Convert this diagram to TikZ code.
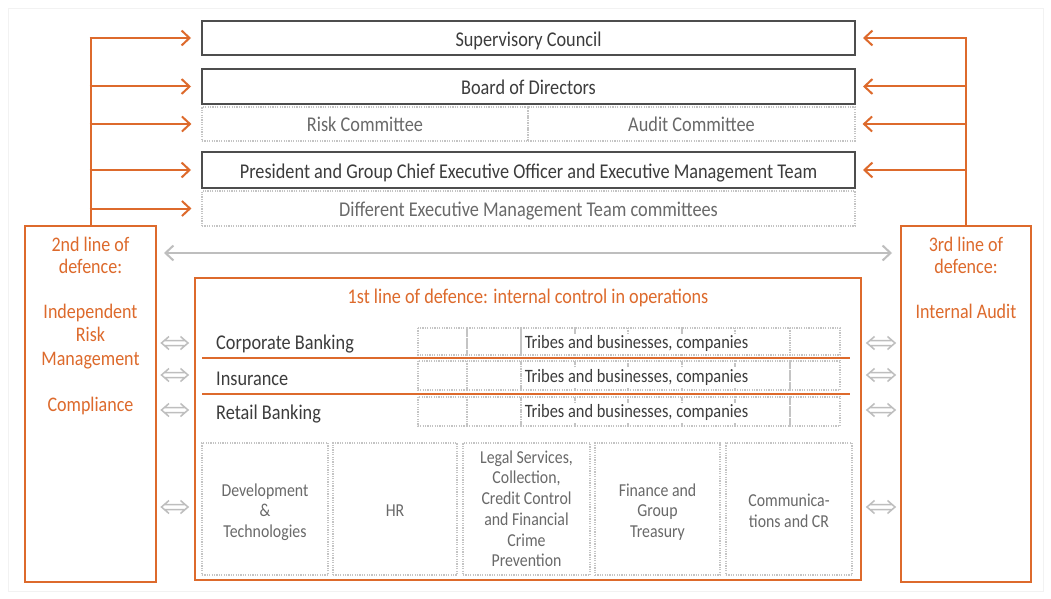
\documentclass[tikz,border=0pt]{standalone}
\usepackage{fontspec}
\setmainfont{Carlito}[FakeStretch=0.87]
\usetikzlibrary{arrows.meta,calc}
\definecolor{org}{RGB}{221,106,44}
\definecolor{dk}{RGB}{77,77,77}
\definecolor{txt}{RGB}{60,60,60}
\definecolor{ltxt}{RGB}{105,105,105}
\definecolor{dotc}{RGB}{196,196,196}
\definecolor{garw}{RGB}{190,190,190}
\tikzset{
  big/.style={font=\fontsize{21}{25}\selectfont},
  mainbox/.style={draw=dk, line width=2pt, text=txt, inner sep=0pt, big, text height=16.6pt, text depth=0pt},
  dotbox/.style={draw=dotc, line width=1.2pt, dash pattern=on 1.2pt off 1.2pt, inner sep=0pt},
  topdot/.style={dotbox, text=ltxt, big, text height=15pt, text depth=0pt},
  obox/.style={draw=org, line width=2pt, inner sep=0pt},
  otext/.style={text=org, anchor=base, inner sep=0pt, font=\fontsize{20.7}{24}\selectfont},
  oarrow/.style={draw=org, line width=2pt, -{Straight Barb[length=8pt,width=15pt]}},
  oline/.style={draw=org, line width=2pt},
  garrow/.style={draw=garw, line width=2pt, {Straight Barb[length=8pt,width=15pt]}-{Straight Barb[length=8pt,width=15pt]}},
  dblarrow/.style={draw=garw, line width=1.5pt, line join=miter, to path={
     ($(\tikztostart)+(7.5,-6.5)$) -- (\tikztostart) -- ($(\tikztostart)+(7.5,6.5)$)
     ($(\tikztostart)+(2.9,-2.5)$) -- ($(\tikztotarget)+(-2.9,-2.5)$)
     ($(\tikztostart)+(2.9,2.5)$) -- ($(\tikztotarget)+(-2.9,2.5)$)
     ($(\tikztotarget)+(-7.5,-6.5)$) -- (\tikztotarget) -- ($(\tikztotarget)+(-7.5,6.5)$)}},
  rowlab/.style={text=txt, anchor=base west, inner sep=0pt, big},
  tribe/.style={text=txt, fill=white, anchor=base, inner xsep=2pt, inner ysep=2pt, text height=12pt, text depth=3.5pt, font=\fontsize{18.85}{22}\selectfont},
  cell/.style={dotbox, minimum height=132pt},
  ctext/.style={text=ltxt, anchor=base, inner sep=0pt, font=\fontsize{18.2}{21}\selectfont},
}
\begin{document}
\begin{tikzpicture}[x=1pt,y=-1pt]
\useasboundingbox (0,0) rectangle (1051,599);
\fill[white] (0,0) rectangle (1051,599);
\draw[black!5] (8,8) rectangle (1043,591);

% top boxes
\node[mainbox, minimum width=653pt, minimum height=34pt] (sc) at (528.5,38) {Supervisory Council};
\node[mainbox, minimum width=653pt, minimum height=35pt] (bod) at (528.5,86.5) {Board of Directors};
\node[topdot, minimum width=326pt, minimum height=34pt] (risk) at (365,124) {Risk Committee};
\node[topdot, minimum width=327pt, minimum height=34pt] (audit) at (691.5,124) {Audit Committee};
\node[mainbox, minimum width=653pt, minimum height=36pt] (pres) at (528.5,170) {President and Group Chief Executive Officer and Executive Management Team};
\node[topdot, minimum width=653pt, minimum height=35pt] (diff) at (528.5,208.5) {Different Executive Management Team committees};

% lines of defence
\node[obox, minimum width=131pt, minimum height=356pt] (lod2) at (90.5,404) {};
\node[obox, minimum width=130pt, minimum height=356pt] (lod3) at (966,404) {};
\node[obox, minimum width=666pt, minimum height=302pt] (lod1) at (528,429) {};

\node[otext] (l2a) at (90.5,251.7) {2nd line of};
\node[otext] (l2b) at (90.5,273.3) {defence:};
\node[otext] (l2c) at (90.5,318.3) {Independent};
\node[otext] (l2d) at (90.5,341.7) {Risk};
\node[otext] (l2e) at (90.5,365) {Management};
\node[otext] (l2f) at (90.5,411.7) {Compliance};
\node[otext] (l3a) at (966,251.7) {3rd line of};
\node[otext] (l3b) at (966,273.3) {defence:};
\node[otext] (l3c) at (966,318.3) {Internal Audit};
\node[otext, font=\fontsize{20.9}{24}\selectfont] (l1t) at (528,303.3) {1st line of defence: internal control in operations};

% orange brackets
\draw[oline] (lod2.north) -- (lod2.north |- sc.west);
\draw[oline] (lod3.north) -- (lod3.north |- sc.east);
\foreach \n in {sc,bod,risk,pres,diff}{
  \draw[oarrow] ($(lod2.north |- \n.west)+(-1,0)$) -- ($(\n.west)+(-10,0)$);
}
\foreach \n in {sc,bod,audit,pres}{
  \draw[oarrow] ($(lod3.north |- \n.east)+(1,0)$) -- ($(\n.east)+(7,0)$);
}

% gray long arrow
\coordinate (gy) at (0,253);
\draw[garrow] ($(lod2.east |- gy)+(7,0)$) -- ($(lod3.west |- gy)+(-8,0)$);

% business rows
\node[rowlab] (cb) at (216,349) {Corporate Banking};
\node[rowlab] (ins) at (216,385) {Insurance};
\node[rowlab] (rb) at (216,419) {Retail Banking};
\draw[org, line width=1.5pt] (202,358) -- (850,358);
\draw[org, line width=1.5pt] (202,394) -- (850,394);

\foreach \yc/\hh in {341.5/27, 375.5/29, 411.5/29}{
  \foreach \a/\b in {418/467,467/521,521/575,575/628,628/682,682/735,735/790,790/840}{
    \draw[dotbox] (\a,\yc-\hh/2) rectangle (\b,\yc+\hh/2);
  }
}
\node[tribe] (tr1) at (636.5,348) {Tribes and businesses, companies};
\node[tribe] (tr2) at (636.5,382) {Tribes and businesses, companies};
\node[tribe] (tr3) at (636.5,417) {Tribes and businesses, companies};

% support functions
\node[cell, minimum width=126pt] (d1) at (265,509) {};
\node[cell, minimum width=124pt] (d2) at (395,509) {};
\node[cell, minimum width=127pt] (d3) at (526.5,509) {};
\node[cell, minimum width=125pt] (d4) at (657.5,509) {};
\node[cell, minimum width=126pt] (d5) at (789,509) {};

\node[ctext] (d1a) at (265,496) {Development};
\node[ctext] (d1b) at (265,516.5) {\&};
\node[ctext] (d1c) at (265,537) {Technologies};
\node[ctext] (d2a) at (395,516.5) {HR};
\node[ctext] (d3a) at (526.5,463) {Legal Services,};
\node[ctext] (d3b) at (526.5,483.5) {Collection,};
\node[ctext] (d3c) at (526.5,504.5) {Credit Control};
\node[ctext] (d3d) at (526.5,525.5) {and Financial};
\node[ctext] (d3e) at (526.5,546) {Crime};
\node[ctext] (d3f) at (526.5,566.5) {Prevention};
\node[ctext] (d4a) at (657.5,496) {Finance and};
\node[ctext] (d4b) at (657.5,516.5) {Group};
\node[ctext] (d4c) at (657.5,537) {Treasury};
\node[ctext] (d5a) at (789,506.5) {Communica-};
\node[ctext] (d5b) at (789,527) {tions and CR};

% small double arrows
\coordinate (r1) at (0,343);
\coordinate (r2) at (0,375);
\coordinate (r3) at (0,410);
\coordinate (r4) at (0,507);
\foreach \r in {r1,r2,r3,r4}{
  \draw[dblarrow] ($(lod2.east |- \r)+(4.5,0)$) to ($(lod1.west |- \r)+(-6,0)$);
  \draw[dblarrow] ($(lod1.east |- \r)+(5,0)$) to ($(lod3.west |- \r)+(-5,0)$);
}
\end{tikzpicture}
\end{document}
